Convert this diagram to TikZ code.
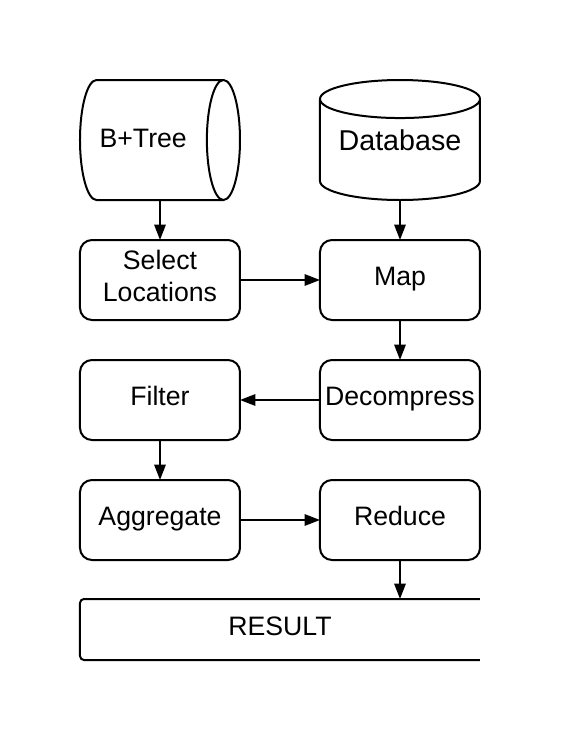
\documentclass[tikz,border=0pt]{standalone}
\usepackage{fontspec}
\setmainfont{Liberation Sans}
\usetikzlibrary{matrix,calc,shapes.geometric,arrows.meta}

\begin{document}
\begin{tikzpicture}[
  line width=1.5pt,
  box/.style={draw, rounded corners=9pt, minimum width=120pt, minimum height=60pt,
    outer sep=0pt, inner sep=0pt, font=\fontsize{20}{24}\selectfont,
    text height=14.5pt, text depth=6.1pt},
  drum/.style={draw, cylinder, anchor=shape center, shape aspect=1.38,
    minimum width=90pt, minimum height=120pt, outer sep=0pt, inner sep=0pt,
    font=\fontsize{20}{24}\selectfont, text height=14.5pt, text depth=3.5pt},
  tank/.style={draw, cylinder, anchor=shape center, shape border rotate=90, shape aspect=0.31,
    minimum width=120pt, minimum height=90pt, outer sep=0pt, inner sep=0pt,
    font=\fontsize{21.5}{26}\selectfont, text height=13pt, text depth=12.6pt},
  arr/.style={-{Triangle[length=11.5pt,width=8.5pt]}}
]
  \matrix (M) [
  matrix of nodes,nodes={anchor=center},
  column sep=58.5pt,row sep=28.5pt,inner sep=0pt
]
  {
    |[drum] (bptree)| B+Tree\hspace*{12pt} & |[tank] (database)| Database \\
    |[box] (select)| \begin{tabular}{@{}c@{}}Select\\Locations\end{tabular} & |[box] (map)| Map \\
    |[box] (filter)| Filter & |[box] (decompress)| Decompress \\
    |[box] (aggregate)| Aggregate & |[box] (reduce)| Reduce \\
  };

\node[box, draw=none, minimum width=300pt, minimum height=45.75pt, anchor=north west] (result)
  at ($(aggregate.south west)+(0,-29.25pt)$) {RESULT};
\draw[rounded corners=3pt] (result.north east) -- (result.north west) -- (result.south west) -- (result.south east);

\draw[arr] (select.north |- bptree.south) -- (select.north);
\draw[arr] (map.north |- database.south) -- (map.north);
\draw[arr] (select) -- (map);
\draw[arr] (map) -- (decompress);
\draw[arr] (decompress) -- (filter);
\draw[arr] (filter) -- (aggregate);
\draw[arr] (aggregate) -- (reduce);
\draw[arr] (reduce) -- (reduce |- result.north);

\useasboundingbox ($(select.north west)+(-60pt,180pt)$) rectangle ++(422.25pt,-555pt);
\end{tikzpicture}
\end{document}
